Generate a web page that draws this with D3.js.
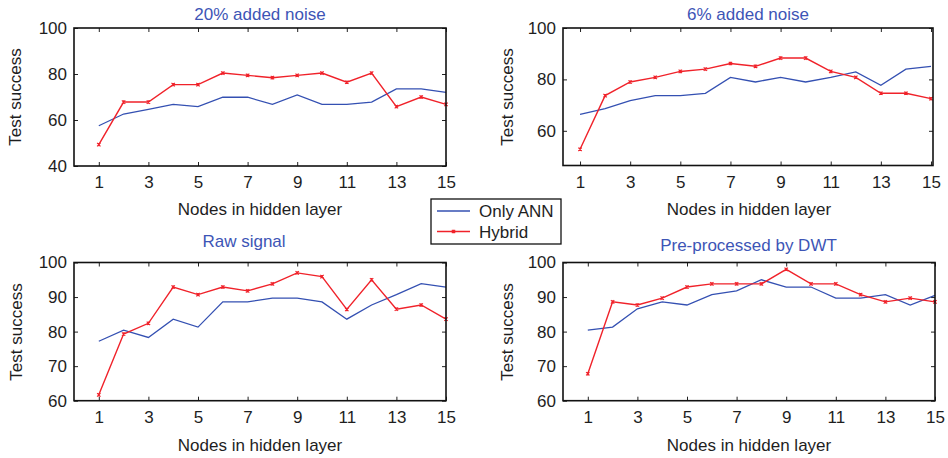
<!DOCTYPE html>
<html>
<head>
<meta charset="utf-8">
<script src="https://cdn.jsdelivr.net/npm/d3@7"></script>
<style>
  html, body { margin: 0; padding: 0; background: #fff; }
  svg text { font-family: "Liberation Sans", Arial, sans-serif; }
</style>
</head>
<body>
<svg id="chart" width="948" height="458"></svg>
<script>
// ---------- data ----------
const nodes = [1, 2, 3, 4, 5, 6, 7, 8, 9, 10, 11, 12, 13, 14, 15];
const xTickValues = [1, 3, 5, 7, 9, 11, 13, 15];

const titles = ["20% added noise", "6% added noise", "Raw signal", "Pre-processed by DWT"];
const seriesNames = ["Only ANN", "Hybrid"];

const annNoise20 = [57.5, 62.6, 64.6, 66.8, 65.8, 69.9, 69.9, 66.8, 70.9, 66.8, 66.8, 67.8, 73.5, 73.5, 72.0];
const hybNoise20 = [49.3, 67.8, 67.8, 75.4, 75.4, 80.4, 79.4, 78.4, 79.4, 80.4, 76.4, 80.4, 65.8, 70.0, 66.8];

const annNoise6 = [66.4, 68.6, 71.7, 73.7, 73.7, 74.6, 80.8, 79.0, 80.8, 79.0, 80.8, 82.9, 77.7, 84.0, 85.1];
const hybNoise6 = [52.8, 73.7, 79.0, 80.8, 83.1, 84.0, 86.2, 85.1, 88.3, 88.3, 83.1, 80.8, 74.6, 74.6, 72.5];

const annRaw = [77.2, 80.4, 78.3, 83.6, 81.3, 88.6, 88.6, 89.7, 89.7, 88.6, 83.6, 87.7, 90.7, 93.9, 92.9];
const hybRaw = [61.7, 79.3, 82.4, 92.9, 90.7, 92.9, 91.8, 93.8, 97.0, 95.9, 86.4, 95.0, 86.5, 87.7, 83.6];

const annDwt = [80.4, 81.3, 86.6, 88.6, 87.7, 90.7, 91.8, 95.0, 92.9, 92.9, 89.7, 89.7, 90.7, 87.7, 90.5];
const hybDwt = [67.8, 88.6, 87.7, 89.7, 92.9, 93.8, 93.8, 93.8, 98.0, 93.8, 93.8, 90.7, 88.6, 89.7, 88.6];

const yTicksNoise20 = [40, 60, 80, 100];
const yTicksNoise6 = [60, 80, 100];
const yTicksRaw = [60, 70, 80, 90, 100];
const yTicksDwt = [60, 70, 80, 90, 100];

// ---------- layout / style ----------
const BLUE = "#3450b2";
const RED = "#f0222a";
const TITLE_BLUE = "#3d55b6";
const TEXT = "#1e1e1e";
const FS = 17;

const panels = [
  { ann: annNoise20, hyb: hybNoise20, yTicks: yTicksNoise20, title: titles[0],
    box: [74, 446, 28, 166], xDom: [0, 15], yDom: [40, 100],
    titlePos: [260, 20], xLab: [260, 215], yLab: [21, 97] },
  { ann: annNoise6, hyb: hybNoise6, yTicks: yTicksNoise6, title: titles[1],
    box: [563, 933, 28, 165.5], xDom: [0.32, 15.08], yDom: [46.5, 100],
    titlePos: [748, 20], xLab: [749, 215], yLab: [513, 97] },
  { ann: annRaw, hyb: hybRaw, yTicks: yTicksRaw, title: titles[2],
    box: [74, 446, 262.5, 400.7], xDom: [0, 15], yDom: [60, 100],
    titlePos: [244, 247], xLab: [260, 451], yLab: [22, 332] },
  { ann: annDwt, hyb: hybDwt, yTicks: yTicksDwt, title: titles[3],
    box: [563, 935, 262.5, 400.7], xDom: [0, 15], yDom: [60, 100],
    titlePos: [748.5, 251], xLab: [749, 451], yLab: [513, 332] }
];

const svg = d3.select("#chart");

function drawCross(g, x, y, color) {
  const s = 1.7;
  g.append("path")
    .attr("d", `M${x - s},${y - s}L${x + s},${y + s}M${x - s},${y + s}L${x + s},${y - s}M${x},${y - s}L${x},${y + s}`)
    .attr("stroke", color).attr("stroke-width", 1.1).attr("fill", "none");
}

panels.forEach(p => {
  const [L, R, T, B] = p.box;
  const x = d3.scaleLinear().domain(p.xDom).range([L, R]);
  const y = d3.scaleLinear().domain(p.yDom).range([B, T]);
  const g = svg.append("g");

  // axes (inward ticks, MATLAB style)
  const ax = g.append("g").attr("transform", `translate(0,${B})`)
    .call(d3.axisBottom(x).tickValues(xTickValues).tickSize(-4).tickPadding(10).tickFormat(d3.format("d")));
  const ay = g.append("g").attr("transform", `translate(${L},0)`)
    .call(d3.axisLeft(y).tickValues(p.yTicks).tickSize(-4).tickPadding(7).tickFormat(d3.format("d")));
  const at = g.append("g").attr("transform", `translate(0,${T})`)
    .call(d3.axisTop(x).tickValues(xTickValues).tickSize(-4).tickFormat(""));
  const ar = g.append("g").attr("transform", `translate(${R},0)`)
    .call(d3.axisRight(y).tickValues(p.yTicks).tickSize(-4).tickFormat(""));
  [ax, ay, at, ar].forEach(a => {
    a.select(".domain").remove();
    a.selectAll(".tick line").attr("stroke", "#222").attr("stroke-width", 1);
    a.selectAll(".tick text").attr("font-size", FS).attr("fill", TEXT)
      .style("font-family", '"Liberation Sans", Arial, sans-serif');
  });

  // lines
  const line = d3.line().x((d, i) => x(nodes[i])).y(d => y(d));
  g.append("path").datum(p.ann).attr("d", line)
    .attr("fill", "none").attr("stroke", BLUE).attr("stroke-width", 1.3);
  g.append("path").datum(p.hyb).attr("d", line)
    .attr("fill", "none").attr("stroke", RED).attr("stroke-width", 1.4);
  p.hyb.forEach((d, i) => drawCross(g, x(nodes[i]), y(d), RED));

  // box
  g.append("rect").attr("x", L).attr("y", T).attr("width", R - L).attr("height", B - T)
    .attr("fill", "none").attr("stroke", "#111").attr("stroke-width", 1.6);

  // texts
  g.append("text").attr("x", p.titlePos[0]).attr("y", p.titlePos[1])
    .attr("text-anchor", "middle").attr("font-size", FS).attr("fill", TITLE_BLUE).text(p.title);
  g.append("text").attr("x", p.xLab[0]).attr("y", p.xLab[1])
    .attr("text-anchor", "middle").attr("font-size", FS).attr("fill", TEXT).text("Nodes in hidden layer");
  g.append("text").attr("transform", `translate(${p.yLab[0]},${p.yLab[1]}) rotate(-90)`)
    .attr("text-anchor", "middle").attr("font-size", FS).attr("fill", TEXT).text("Test success");
});

// legend
const lg = svg.append("g");
lg.append("rect").attr("x", 431).attr("y", 199).attr("width", 130).attr("height", 45)
  .attr("fill", "#fff").attr("stroke", "#111").attr("stroke-width", 1.3);
const legendColors = [BLUE, RED];
seriesNames.forEach((name, i) => {
  const ly = 211 + i * 20.5;
  lg.append("line").attr("x1", 437).attr("x2", 470).attr("y1", ly).attr("y2", ly)
    .attr("stroke", legendColors[i]).attr("stroke-width", 1.3);
  if (i === 1) drawCross(lg, 453.5, ly, RED);
  lg.append("text").attr("x", 479).attr("y", ly + 6).attr("font-size", FS)
    .attr("fill", TEXT).text(name);
});
</script>
</body>
</html>
